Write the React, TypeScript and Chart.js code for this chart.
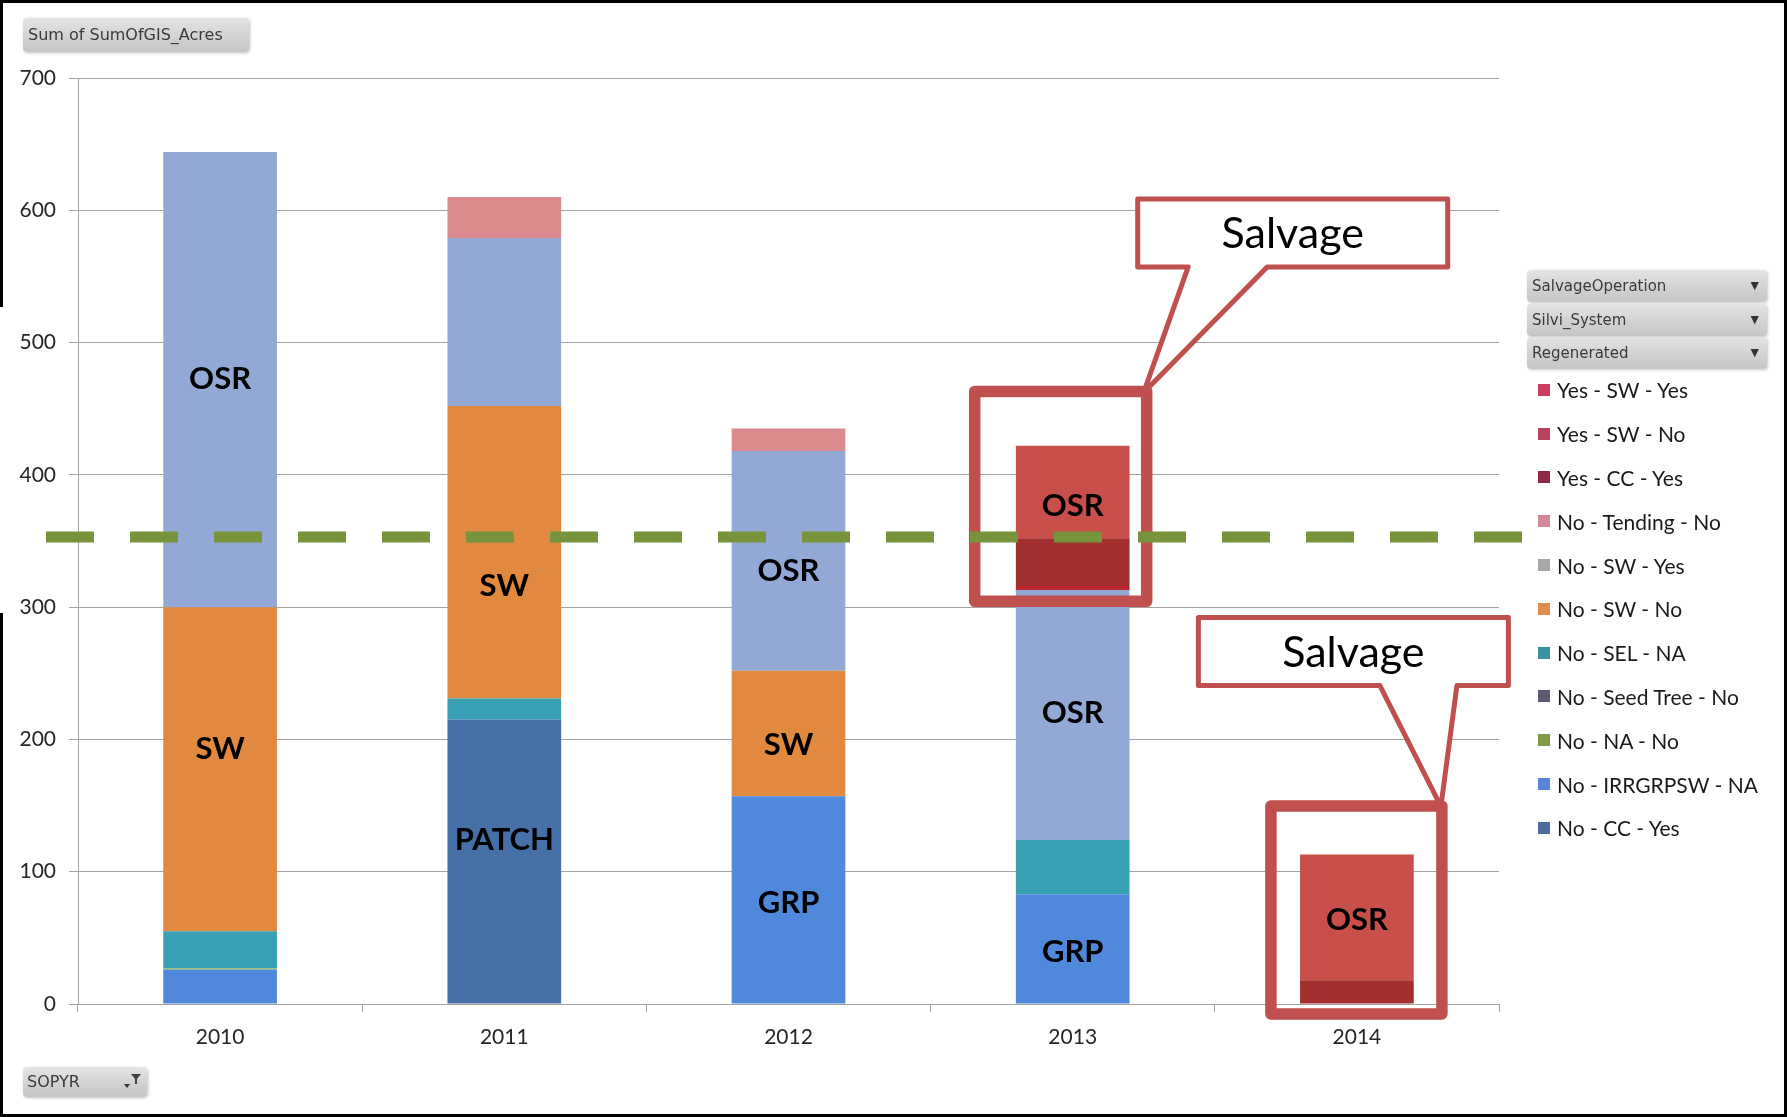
import React, { useEffect, useRef } from 'react';
import { Chart, registerables } from 'chart.js';

Chart.register(...registerables);

// ---------- data ----------
const categories = ['2010', '2011', '2012', '2013', '2014'];

// legend order (top of stack first)
const yesSwYes = [0, 0, 0, 70, 95];
const yesSwNo = [0, 0, 0, 36, 18];
const yesCcYes = [0, 0, 0, 3, 0];
const noTendingNo = [0, 31, 17, 0, 0];
const noSwYes = [344, 127, 166, 189, 0];
const noSwNo = [245, 221, 95, 0, 0];
const noSelNa = [28, 16, 0, 41, 0];
const noSeedTreeNo = [0, 0, 0, 0, 0];
const noNaNo = [1, 0, 0, 0, 0];
const noIrrgrpswNa = [26, 0, 157, 83, 0];
const noCcYes = [0, 215, 0, 0, 0];

const seriesNames = [
  'Yes - SW - Yes',
  'Yes - SW - No',
  'Yes - CC - Yes',
  'No - Tending - No',
  'No - SW - Yes',
  'No - SW - No',
  'No - SEL - NA',
  'No - Seed Tree - No',
  'No - NA - No',
  'No - IRRGRPSW - NA',
  'No - CC - Yes',
];
const seriesValues = [
  yesSwYes, yesSwNo, yesCcYes, noTendingNo, noSwYes, noSwNo,
  noSelNa, noSeedTreeNo, noNaNo, noIrrgrpswNa, noCcYes,
];
const barColors = [
  '#C9504A', '#A2302F', '#C0262F', '#DD8A8E', '#92A9D5', '#E0893F',
  '#38A0B2', '#5B5870', '#9BBB59', '#5089DB', '#4571A8',
];
const legendColors = [
  '#CC3D62', '#B9405E', '#8C2A45', '#D6889B', '#A8A8A8', '#E08C4E',
  '#3A8FA3', '#5B5870', '#7F9A48', '#5583D6', '#4A6C9A',
];

const yMin = 0;
const yMax = 700;
const yStep = 100;

const threshold = 353;

// in-bar labels: category index, value where the label sits, text
const barLabelCats = [0, 0, 1, 1, 2, 2, 2, 3, 3, 3, 4];
const barLabelAt = [473, 194, 317, 125, 328, 197, 77, 377, 221, 40, 64];
const barLabelText = ['OSR', 'SW', 'SW', 'PATCH', 'OSR', 'SW', 'GRP', 'OSR', 'OSR', 'GRP', 'OSR'];

const calloutCats = [3, 4];
const calloutText = ['Salvage', 'Salvage'];

// ---------- styling of annotations (offsets from the bar centre, values on y) ----------
const calloutGeom = [
  {
    box: { dx0: -98, dx1: 74, v0: 304.4, v1: 463.1 },
    bubble: { dx0: 65, dx1: 375, v0: 557.2, v1: 608.5 },
    base: [115.5, 194.5],
    tip: { dx: 71, v: 462.3 },
  },
  {
    box: { dx0: -86, dx1: 85, v0: -7.5, v1: 149.6 },
    bubble: { dx0: -158.5, dx1: 151.5, v0: 240.7, v1: 292.1 },
    base: [23, 100],
    tip: { dx: 84, v: 149.3 },
  },
];

const RED = '#C0504D';

const overlayPlugin = {
  id: 'overlay',
  afterDraw(chart: any) {
    const { ctx, chartArea } = chart;
    const x = chart.scales.x;
    const y = chart.scales.y;
    ctx.save();

    // bar labels
    const lf = 31;
    ctx.font = `bold ${lf}px Lato`;
    ctx.fillStyle = '#000';
    ctx.textAlign = 'center';
    ctx.textBaseline = 'alphabetic';
    barLabelText.forEach((t, i) => {
      ctx.fillText(t, x.getPixelForValue(barLabelCats[i]), y.getPixelForValue(barLabelAt[i]) + lf * 0.36);
    });

    // callouts
    calloutCats.forEach((cat, i) => {
      const g = calloutGeom[i];
      const cx = x.getPixelForValue(cat);
      const L = cx + g.bubble.dx0;
      const R = cx + g.bubble.dx1;
      const T = y.getPixelForValue(g.bubble.v1);
      const B = y.getPixelForValue(g.bubble.v0);
      const tx = cx + g.tip.dx;
      const ty = y.getPixelForValue(g.tip.v);
      ctx.beginPath();
      ctx.moveTo(L, T);
      ctx.lineTo(R, T);
      ctx.lineTo(R, B);
      ctx.lineTo(cx + g.base[1], B);
      ctx.lineTo(tx, ty);
      ctx.lineTo(cx + g.base[0], B);
      ctx.lineTo(L, B);
      ctx.closePath();
      ctx.fillStyle = '#fff';
      ctx.fill();
      ctx.setLineDash([]);
      ctx.lineWidth = 5;
      ctx.lineJoin = 'round';
      ctx.strokeStyle = RED;
      ctx.stroke();

      const sf = 43;
      ctx.font = `${sf}px Lato`;
      ctx.fillStyle = '#000';
      ctx.textAlign = 'center';
      ctx.fillText(calloutText[i], (L + R) / 2, (T + B) / 2 + sf * 0.36);

      // highlight box
      const bl = cx + g.box.dx0;
      const br = cx + g.box.dx1;
      const bt = y.getPixelForValue(g.box.v1);
      const bb = y.getPixelForValue(g.box.v0);
      ctx.beginPath();
      ctx.rect(bl, bt, br - bl, bb - bt);
      ctx.lineWidth = 11.5;
      ctx.lineJoin = 'round';
      ctx.strokeStyle = RED;
      ctx.stroke();
    });

    // threshold dashed line
    const ty = y.getPixelForValue(threshold);
    ctx.beginPath();
    ctx.setLineDash([48, 36]);
    ctx.lineCap = 'butt';
    ctx.lineWidth = 11;
    ctx.strokeStyle = '#77933C';
    ctx.moveTo(chartArea.left - 32, ty);
    ctx.lineTo(chartArea.right + 23, ty);
    ctx.stroke();

    ctx.restore();
  },
};

const grey = '#A3A3A3';

function buildConfig(): any {
  const datasets = seriesNames
    .map((name, i) => ({
      label: name,
      data: seriesValues[i],
      backgroundColor: barColors[i],
      borderWidth: 0,
      categoryPercentage: 1,
      barPercentage: 0.4,
    }))
    .reverse();
  return {
    type: 'bar',
    data: { labels: categories, datasets },
    plugins: [overlayPlugin],
    options: {
      animation: false,
      responsive: false,
      devicePixelRatio: 1,
      layout: { padding: { left: 0, right: 288, top: 78, bottom: 0 } },
      plugins: { legend: { display: false }, tooltip: { enabled: false } },
      scales: {
        x: {
          stacked: true,
          offset: true,
          grid: {
            display: true,
            drawOnChartArea: false,
            drawTicks: true,
            tickLength: 8,
            color: grey,
            offset: true,
          },
          border: { display: true, color: grey },
          ticks: { color: '#262626', font: { family: 'Lato', size: 21 }, padding: 13 },
          afterFit: (s: any) => {
            s.height = 113;
          },
        },
        y: {
          stacked: true,
          min: yMin,
          max: yMax,
          ticks: { stepSize: yStep, color: '#262626', font: { family: 'Lato', size: 21 }, padding: 13 },
          grid: { color: grey, tickLength: 9, drawTicks: true },
          border: { display: true, color: grey },
          afterFit: (s: any) => {
            s.width = 78;
          },
        },
      },
    },
  };
}

const btnBg = 'linear-gradient(to bottom, #e4e4e4 0%, #d2d2d2 55%, #c6c6c6 100%)';

export default function App() {
  const ref = useRef<HTMLCanvasElement>(null);
  useEffect(() => {
    let chart: Chart | null = null;
    let cancelled = false;
    const make = () => {
      if (cancelled || !ref.current) return;
      chart = new Chart(ref.current, buildConfig());
    };
    const f: any = (document as any).fonts;
    if (f && f.load) {
      Promise.all([f.load('21px Lato'), f.load('bold 31px Lato'), f.load('43px Lato')]).then(make, make);
    } else make();
    return () => {
      cancelled = true;
      if (chart) chart.destroy();
    };
  }, []);

  const legendTop = 389.8;
  const legendStep = 43.8;

  return (
    <div
      style={{
        position: 'absolute',
        left: 0,
        top: 0,
        width: 1787,
        height: 1117,
        background: '#fff',
        overflow: 'hidden',
      }}
    >
      <canvas
        ref={ref}
        width={1787}
        height={1117}
        style={{ position: 'absolute', left: 0, top: 0, width: 1787, height: 1117 }}
      />

      {/* field buttons */}
      <div
        style={{
          position: 'absolute',
          left: 23,
          top: 18,
          width: 226,
          height: 34,
          background: btnBg,
          borderRadius: 4,
          boxShadow: '1px 1px 3px rgba(0,0,0,0.25)',
          fontFamily: '"DejaVu Sans", sans-serif',
          fontSize: 16,
          lineHeight: '34px',
          color: '#3a3a3a',
          paddingLeft: 5,
          boxSizing: 'border-box',
          whiteSpace: 'nowrap',
        }}
      >
        Sum of SumOfGIS_Acres
      </div>

      <div
        style={{
          position: 'absolute',
          left: 23,
          top: 1067,
          width: 124,
          height: 30,
          background: btnBg,
          borderRadius: 4,
          boxShadow: '1px 1px 3px rgba(0,0,0,0.25)',
          fontFamily: '"DejaVu Sans", sans-serif',
          fontSize: 16,
          lineHeight: '30px',
          color: '#3a3a3a',
          paddingLeft: 4,
          boxSizing: 'border-box',
        }}
      >
        SOPYR
        <svg width="22" height="20" style={{ position: 'absolute', right: 4, top: 4 }}>
          <path d="M3 13 L9 13 L6 17 Z" fill="#333" />
          <path d="M10 3 L20 3 L16 8 L16 13 L14 13 L14 8 Z" fill="#444" />
        </svg>
      </div>

      {/* legend header buttons */}
      {['SalvageOperation', 'Silvi_System', 'Regenerated'].map((t, i) => (
        <div
          key={t}
          style={{
            position: 'absolute',
            left: 1527,
            top: 270 + i * 33.5,
            width: 240,
            height: 32,
            background: btnBg,
            borderRadius: 4,
            boxShadow: '1px 1px 3px rgba(0,0,0,0.22)',
            fontFamily: '"DejaVu Sans", sans-serif',
            fontSize: 15,
            lineHeight: '32px',
            color: '#3a3a3a',
            paddingLeft: 5,
            boxSizing: 'border-box',
          }}
        >
          {t}
          <span style={{ position: 'absolute', right: 8, top: 0, fontSize: 11, color: '#333' }}>▼</span>
        </div>
      ))}

      {/* legend entries */}
      {seriesNames.map((n, i) => (
        <div
          key={n}
          style={{
            position: 'absolute',
            left: 1538,
            top: legendTop + i * legendStep - 14,
            height: 28,
            display: 'flex',
            alignItems: 'center',
            fontFamily: 'Lato, sans-serif',
            fontSize: 21,
            color: '#1a1a1a',
            whiteSpace: 'nowrap',
          }}
        >
          <span
            style={{
              display: 'inline-block',
              width: 12,
              height: 12,
              background: legendColors[i],
              marginRight: 7,
            }}
          />
          {n}
        </div>
      ))}

      {/* frame */}
      <div
        style={{
          position: 'absolute',
          left: 0,
          top: 0,
          width: 1787,
          height: 1117,
          border: '3px solid #000',
          boxSizing: 'border-box',
          pointerEvents: 'none',
        }}
      />
      <div style={{ position: 'absolute', left: 0, top: 307, width: 3, height: 306, background: '#fff' }} />
    </div>
  );
}
